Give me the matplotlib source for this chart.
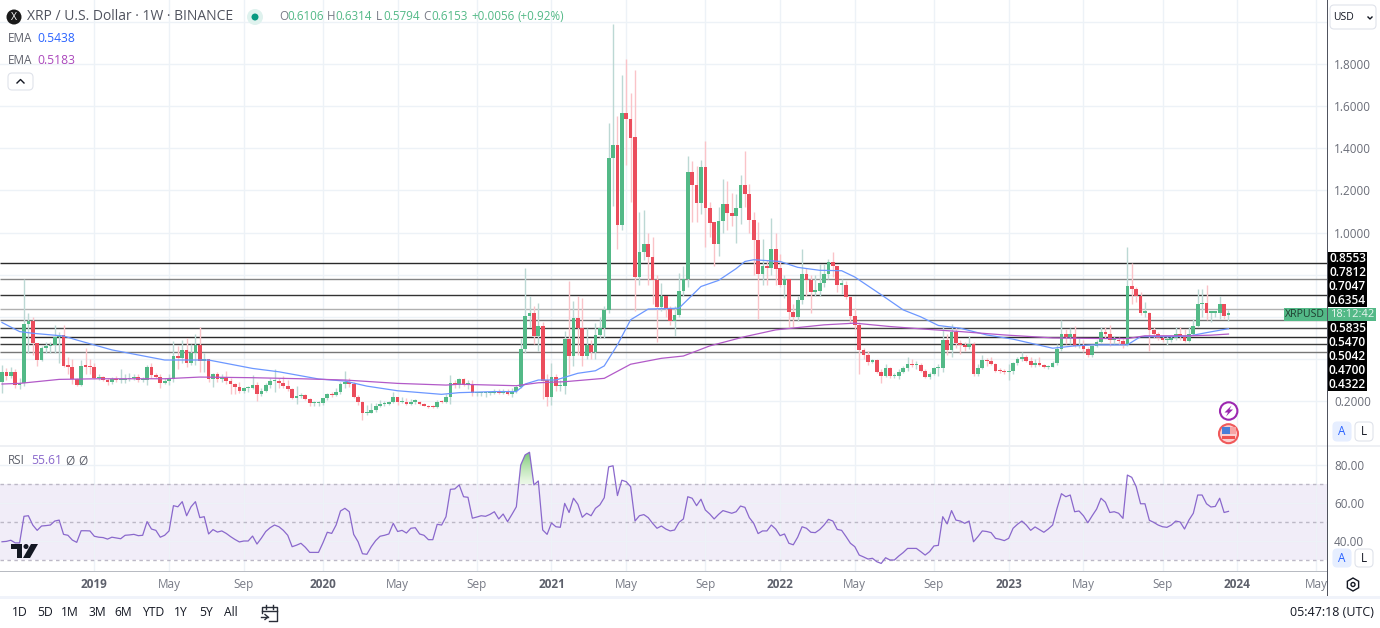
import numpy as np
import pandas as pd
import matplotlib
matplotlib.use('Agg')
import matplotlib.pyplot as plt
import matplotlib.dates as mdates
from matplotlib.patches import Rectangle, Ellipse, Polygon, FancyBboxPatch

W, H = 1380, 628
plt.rcParams['font.family'] = ['Open Sans', 'DejaVu Sans']

first_week = '2018-08-13'

opens = [.292,.339,.319,.339,.274,.285,.566,.578,.474,.395,
         .45,.46,.467,.505,.515,.366,.363,.303,.278,.366,
         .363,.36,.31,.312,.30,.292,.304,.298,.30,.303,
         .31,.313,.30,.30,.36,.323,.315,.285,.295,.305,
         .414,.403,.443,.382,.43,.465,.392,.40,.305,.33,
         .305,.315,.297,.281,.265,.25,.262,.262,.275,.233,
         .25,.275,.293,.297,.285,.27,.258,.215,.225,.228,
         .21,.19,.19,.191,.215,.235,.229,.245,.281,.292,
         .281,.22,.196,.144,.145,.158,.176,.185,.185,.195,
         .218,.196,.197,.185,.197,.197,.185,.178,.171,.17,
         .198,.195,.22,.284,.276,.303,.278,.28,.237,.237,
         .238,.238,.238,.25,.24,.25,.235,.25,.268,.446,
         .605,.62,.51,.557,.30,.22,.313,.27,.27,.495,
         .415,.594,.545,.415,.467,.433,.515,.545,.633,1.352,
         1.414,1.035,1.566,1.538,1.455,.79,.908,.947,.884,.773,
         .646,.697,.641,.582,.608,.724,.78,1.289,1.228,1.141,
         1.313,1.117,1.05,.945,1.055,1.138,1.094,1.08,1.117,1.224,
         1.185,1.058,.966,.805,.84,.83,.92,.83,.753,.78,
         .625,.60,.68,.805,.776,.72,.724,.76,.805,.86,
         .84,.753,.753,.695,.605,.563,.443,.418,.387,.393,
         .34,.32,.355,.32,.32,.34,.357,.375,.37,.37,
         .345,.316,.33,.356,.357,.49,.443,.53,.475,.465,
         .455,.47,.33,.355,.395,.39,.375,.345,.343,.337,
         .345,.38,.40,.41,.39,.37,.38,.37,.362,.362,
         .38,.447,.52,.505,.52,.46,.462,.445,.42,.46,
         .48,.53,.52,.488,.488,.485,.467,.747,.733,.70,
         .62,.62,.537,.52,.50,.49,.49,.50,.52,.51,
         .487,.52,.557,.662,.664,.62,.62,.62,.66,.6106]

closes = [.339,.319,.339,.274,.285,.566,.578,.474,.395,.45,
          .46,.467,.505,.515,.366,.363,.303,.278,.366,.363,
          .36,.31,.312,.30,.292,.304,.298,.30,.303,.31,
          .313,.30,.30,.36,.323,.315,.285,.295,.308,.414,
          .403,.443,.382,.43,.465,.392,.40,.305,.33,.305,
          .315,.297,.281,.265,.25,.262,.265,.275,.233,.25,
          .275,.293,.297,.285,.27,.258,.215,.225,.228,.21,
          .19,.19,.191,.215,.235,.229,.245,.281,.292,.281,
          .22,.196,.144,.145,.158,.176,.185,.185,.195,.218,
          .196,.197,.185,.197,.197,.185,.178,.171,.17,.198,
          .195,.22,.284,.276,.303,.278,.28,.237,.237,.238,
          .238,.238,.25,.24,.25,.235,.25,.268,.446,.605,
          .62,.51,.557,.297,.22,.313,.27,.272,.495,.415,
          .594,.545,.415,.467,.433,.515,.545,.633,1.352,1.414,
          1.035,1.566,1.538,1.449,.79,.908,.947,.884,.773,.646,
          .697,.641,.582,.608,.724,.78,1.289,1.228,1.141,1.313,
          1.117,1.045,.945,1.055,1.138,1.094,1.08,1.117,1.224,1.185,
          1.058,.966,.805,.84,.83,.92,.827,.753,.78,.625,
          .60,.68,.805,.776,.72,.724,.76,.805,.86,.84,
          .753,.753,.695,.605,.563,.443,.418,.387,.393,.34,
          .32,.355,.32,.32,.34,.357,.375,.37,.37,.345,
          .316,.33,.356,.357,.49,.443,.53,.475,.465,.455,
          .47,.33,.355,.395,.39,.375,.345,.343,.337,.345,
          .38,.40,.41,.39,.37,.38,.37,.362,.362,.38,
          .447,.52,.505,.52,.46,.462,.445,.42,.46,.48,
          .53,.52,.488,.488,.485,.467,.747,.733,.70,.62,
          .62,.537,.52,.50,.49,.49,.50,.52,.51,.487,
          .52,.557,.662,.664,.62,.62,.62,.66,.606,.6153]

highs = [.37,.355,.36,.35,.31,.78,.62,.60,.47,.46,
         .48,.48,.56,.53,.56,.41,.40,.31,.395,.45,
         .40,.38,.33,.32,.31,.315,.32,.35,.33,.335,
         .33,.33,.315,.37,.38,.335,.33,.31,.33,.485,
         .46,.49,.50,.47,.52,.55,.43,.40,.335,.34,
         .33,.345,.31,.285,.29,.265,.27,.325,.29,.26,
         .285,.31,.35,.31,.32,.30,.26,.27,.24,.235,
         .215,.20,.20,.215,.24,.245,.26,.29,.345,.31,
         .29,.23,.20,.18,.19,.19,.205,.20,.20,.245,
         .22,.22,.215,.21,.21,.20,.19,.18,.18,.205,
         .205,.235,.326,.30,.31,.31,.30,.30,.245,.245,
         .245,.245,.255,.255,.255,.255,.26,.275,.50,.83,
         .70,.65,.666,.575,.33,.38,.33,.30,.535,.77,
         .675,.70,.69,.545,.49,.57,.60,.65,1.52,1.99,
         1.555,1.75,1.825,1.665,1.77,1.10,1.107,1.00,.98,.80,
         .76,.70,.65,.65,.81,.84,1.365,1.34,1.315,1.345,
         1.436,1.146,1.05,1.12,1.256,1.247,1.19,1.185,1.275,1.387,
         1.233,1.10,1.05,.97,.87,1.07,1.0,.90,.80,.78,
         .66,.70,.92,.83,.80,.80,.85,.85,.875,.91,
         .84,.78,.77,.70,.64,.575,.45,.44,.40,.40,
         .35,.375,.36,.335,.35,.365,.41,.40,.39,.38,
         .35,.34,.36,.375,.555,.52,.565,.55,.49,.48,
         .51,.48,.375,.42,.405,.41,.38,.355,.35,.375,
         .385,.41,.435,.42,.41,.40,.41,.375,.37,.39,
         .47,.585,.54,.545,.555,.50,.49,.455,.465,.49,
         .55,.55,.56,.51,.505,.50,.93,.855,.74,.72,
         .67,.625,.55,.53,.515,.51,.515,.55,.55,.54,
         .55,.59,.73,.73,.75,.63,.63,.70,.66,.6314]

lows = [.24,.30,.31,.26,.255,.27,.43,.42,.365,.39,
        .43,.43,.43,.38,.36,.33,.28,.27,.27,.33,
        .33,.305,.30,.295,.275,.28,.29,.285,.285,.295,
        .30,.29,.29,.276,.31,.31,.262,.28,.275,.29,
        .35,.38,.36,.37,.37,.34,.34,.29,.265,.29,
        .29,.28,.232,.235,.24,.24,.245,.255,.20,.225,
        .245,.26,.245,.26,.26,.25,.21,.185,.215,.205,
        .175,.175,.178,.18,.205,.22,.225,.235,.26,.265,
        .215,.18,.11,.135,.145,.15,.17,.175,.18,.19,
        .18,.19,.18,.18,.185,.18,.175,.165,.165,.165,
        .19,.19,.185,.26,.26,.27,.255,.225,.225,.225,
        .22,.23,.235,.235,.235,.23,.22,.24,.26,.43,
        .55,.47,.44,.21,.175,.18,.25,.25,.235,.33,
        .365,.42,.365,.40,.40,.40,.50,.50,.62,1.125,
        .92,1.01,1.32,1.145,.63,.75,.87,.75,.66,.48,
        .63,.60,.56,.51,.60,.70,.74,1.05,1.05,1.09,
        .93,.98,.84,.89,1.0,1.01,1.033,.95,1.04,1.12,
        1.0,.80,.59,.75,.75,.80,.75,.74,.69,.55,
        .55,.58,.66,.70,.62,.70,.70,.74,.78,.79,
        .72,.71,.685,.57,.54,.33,.40,.37,.38,.335,
        .285,.315,.31,.31,.305,.335,.345,.36,.35,.34,
        .31,.305,.325,.32,.34,.42,.41,.45,.425,.44,
        .445,.32,.32,.35,.365,.37,.34,.335,.33,.30,
        .33,.37,.39,.385,.36,.36,.365,.355,.35,.36,
        .37,.44,.47,.47,.455,.45,.435,.41,.41,.455,
        .475,.50,.46,.47,.465,.45,.46,.66,.67,.61,
        .60,.44,.50,.49,.48,.465,.48,.49,.49,.48,
        .48,.51,.55,.60,.585,.575,.60,.59,.59,.5794]

# EMA lines read at their bends, bar number then value
ema_fast_bars = [0,4,7,14,17,25,37,42,47,57,63,72,78,83,90,100,104,112,117,119,122,126,131,135,137,
                 140,143,147,154,159,163,167,169,171,177,181,186,191,194,200,205,209,213,218,224,
                 230,239,244,248,256,259,266,270,274,279]
ema_fast = [.573,.530,.522,.509,.49,.443,.395,.395,.395,.355,.339,.305,.295,.271,.249,.232,.24,.245,.245,.281,.30,.30,.332,.344,.367,
            .467,.586,.637,.641,.744,.773,.829,.863,.871,.863,.835,.821,.819,.789,.705,.633,.60,.559,.546,.514,
            .494,.451,.462,.467,.467,.506,.506,.509,.525,.5438]
ema_slow_bars = [0,4,13,22,37,45,57,68,78,90,101,104,117,122,128,137,143,150,155,161,169,176,187,194,202,
                 209,218,228,239,250,256,260,270,275,279]
ema_slow = [.281,.284,.303,.306,.306,.314,.311,.306,.30,.284,.276,.28,.273,.287,.292,.308,.375,.403,.414,.462,.506,.538,.562,.57,.554,
            .543,.53,.514,.50,.497,.497,.51,.51,.513,.5183]

rsi = [39.6,39.8,40.4,39,39,53,53.3,48.4,45.6,47.9,48.1,48.4,50.5,51,43.5,43,40.5,39.3,45.4,45.4,
       45.3,42.5,42,41.8,41,42,41.6,41.2,43,43.2,43.5,42.8,43,50.2,46.3,45.6,42,43,45.3,58.6,
       58,60.7,53.3,58,60.7,52.3,52.8,43.7,46,44.7,45.3,44,42.3,40.8,39.5,40,40,42.6,38.4,41.5,
       45,47,48.4,47.5,45.6,43,37,37.8,38.8,36.7,34,34,34,39,44.6,44,48.4,55.8,57.2,55.4,
       43.5,39.6,33.3,33,37,40.2,42.5,43,43.7,49.3,45,45.6,44.2,46.7,47,43.7,43,40.7,40.7,48.8,
       48.4,52.8,67.2,67.4,69.5,63.3,63,52,52.6,53.3,53,54,55.4,51.6,54.2,50.2,54,58,80,85.3,
       86.7,69.5,71.6,45.8,43.5,49.5,47.5,47.2,59.8,55,62.5,59.3,52.5,54.6,53.3,57.2,59,62.8,79,79.6,
       63.9,72,71.2,68.6,50.5,53.3,53.9,52.3,49.3,46.7,47.9,46.3,45.3,45.8,49.8,51.6,63.3,
       62.5,58.6,62,56.3,54.2,51.6,54,56,55.3,54.6,55.4,58.4,57.7,52.3,49.3,43.9,45.3,45.3,48.4,46.3,
       42.8,43.7,38.8,38,42,47.5,46.7,44.6,44.4,46,48.4,51.4,50.5,46.1,45.6,42.3,38.8,37,32.6,31.6,
       30.5,30.9,29.1,28.2,31.2,30,30,32.1,33.9,36.1,36.1,36.1,34.4,32.6,34.4,37.4,37.7,52.8,49,56,
       51,50.5,49.3,50.5,39.6,42.3,45.3,45,44.4,41.4,40.9,40.2,41.4,46.7,48.8,50.5,48.4,45.6,47.4,46,
       44.6,46.3,48.4,57.2,64.9,63.3,64.2,55.4,55.8,53.3,49.6,53.3,56.8,62.5,60.4,55,55.4,54.6,51.9,74.7,
       73.5,68.6,59.6,59.6,50.9,49.8,48.4,47.5,47.2,48.4,50.5,50,46.3,51,54.6,64.2,64.2,59.6,57.9,58.2,
       62.5,55,55.6]

levels = [.8553, .7812, .7047, .6354, .5835, .5470, .5042, .4700, .4322]
level_colors = ['#2a2a2a', '#858585', '#333333', '#b0b0b0', '#707070',
                '#444444', '#2a2a2a', '#3a3a3a', '#777777']
level_labels = ['0.8553', '0.7812', '0.7047', '0.6354', '0.5835', '0.5470', '0.5042', '0.4700', '0.4322']
level_label_y = [258, 272, 286, 300, 328, 342, 356, 370, 384]

price_ticks = [2.0, 1.8, 1.6, 1.4, 1.2, 1.0, .8, .6, .4, .2]
price_tick_labels = ['', '1.8000', '1.6000', '1.4000', '1.2000', '1.0000', '', '', '', '0.2000']
rsi_ticks = [80, 60, 40]
rsi_tick_labels = ['80.00', '60.00', '40.00']

time_ticks = ['2019-01-07', '2019-05-06', '2019-09-02', '2020-01-06', '2020-05-04', '2020-09-07',
              '2021-01-04', '2021-05-03', '2021-09-06', '2022-01-03', '2022-05-02', '2022-09-05',
              '2023-01-02', '2023-05-01', '2023-09-04', '2024-01-01', '2024-05-06']
time_labels = ['2019', 'May', 'Sep', '2020', 'May', 'Sep', '2021', 'May', 'Sep',
               '2022', 'May', 'Sep', '2023', 'May', 'Sep', '2024', 'May']

ranges = ['1D', '5D', '1M', '3M', '6M', 'YTD', '1Y', '5Y', 'All']
range_x = [20, 45, 70, 97, 123, 153, 181, 206, 231]

GREEN = '#53b987'
RED = '#eb4d5c'
TEXT = '#4a4d57'
GRID = '#edf2f7'
PURPLE = '#8a68cc'


def fx(x):
    return x / W


def fy(y):
    return 1 - y / H


def box(fig, x0, y0, x1, y1, **kw):
    fig.add_artist(Rectangle((fx(x0), fy(y1)), (x1 - x0) / W, (y1 - y0) / H,
                             transform=fig.transFigure, **kw))


def dot(fig, x, y, r, **kw):
    fig.add_artist(Ellipse((fx(x), fy(y)), 2 * r / W, 2 * r / H, transform=fig.transFigure, **kw))


def poly(fig, pts, **kw):
    fig.add_artist(Polygon([(fx(x), fy(y)) for x, y in pts], transform=fig.transFigure, **kw))


def stroke(fig, pts, color='#131722', lw=1):
    xs, ys = zip(*pts)
    fig.add_artist(plt.Line2D([fx(x) for x in xs], [fy(y) for y in ys],
                              transform=fig.transFigure, color=color, lw=lw))


def label(fig, x, y, s, size=8.5, color=TEXT, ha='left', **kw):
    fig.text(fx(x), fy(y), s, fontsize=size, color=color, ha=ha, va='center', **kw)


def round_key(fig, x0, y0, x1, y1, s, active):
    fig.add_artist(FancyBboxPatch((fx(x0), fy(y1)), (x1 - x0) / W, (y1 - y0) / H,
                                  boxstyle='round,pad=0,rounding_size=0.003',
                                  transform=fig.transFigure, mutation_aspect=W / H,
                                  fc='#e6eeff' if active else 'white',
                                  ec='#e6eeff' if active else '#e0e3eb', lw=0.8))
    label(fig, (x0 + x1) / 2, (y0 + y1) / 2, s, size=8.5,
          color='#2962ff' if active else '#131722', ha='center')


def main():
    assert len(opens) == len(closes) == len(highs) == len(lows) == len(rsi) == 280, \
        (len(opens), len(closes), len(highs), len(lows), len(rsi))

    o, c, h, l = map(np.array, (opens, closes, highs, lows))
    dates = mdates.date2num(pd.date_range(first_week, periods=len(o), freq='7D'))
    px_day = 4.396 / 7
    x_left = dates[0] - 2 / px_day
    x_right = x_left + 1327 / px_day

    fig = plt.figure(figsize=(W / 100, H / 100), dpi=100, facecolor='white')
    ax = fig.add_axes([0, fy(445), 1327 / W, 445 / H])
    ax2 = fig.add_axes([0, fy(571), 1327 / W, 125 / H])

    up = c >= o
    ax.vlines(dates[up], l[up], h[up], color='#bcd8d4', lw=1, zorder=2)
    ax.vlines(dates[~up], l[~up], h[~up], color='#fac3c8', lw=1, zorder=2)
    body = np.maximum(np.abs(c - o), .006)
    colors = np.where(up, GREEN, RED)
    ax.bar(dates, body, bottom=np.minimum(o, c), width=5.9, color=colors, lw=0, zorder=3)

    ax.hlines(levels, x_left, x_right, colors=level_colors, lw=1, zorder=1.5)
    ax.plot(dates[ema_fast_bars], ema_fast, color='#6c97ff', lw=.9, zorder=4)
    ax.plot(dates[ema_slow_bars], ema_slow, color='#b25ac8', lw=.9, zorder=4)

    ax.set_ylim(2 - 423 / 210.6, 2 + 22 / 210.6)
    ax.set_yticks(price_ticks, price_tick_labels)

    # RSI pane
    r = np.array(rsi)
    ax2.axhspan(30, 70, color='#7e57c2', alpha=.1, lw=0, zorder=0)
    for v in (70, 50, 30):
        ax2.axhline(v, color='#bcb8c6', lw=1, dashes=(2.5, 2.5), zorder=1.5)
    over = ax2.fill_between(dates, 70, r, where=r > 70, interpolate=True, color='none', lw=0)
    grad = np.linspace(1, 0, 64).reshape(-1, 1)
    im = ax2.imshow(grad, extent=(x_left, x_right, 70, 87), aspect='auto', cmap='Greens',
                    vmin=-.2, vmax=2.2, zorder=1.6)
    im.set_clip_path(over.get_paths()[0], transform=ax2.transData)
    ax2.plot(dates, r, color=PURPLE, lw=.9, zorder=3)
    ax2.set_ylim(80 - 106 / 1.9, 80 + 19 / 1.9)
    ax2.set_yticks(rsi_ticks, rsi_tick_labels)

    ticks = mdates.date2num(pd.to_datetime(time_ticks))
    for a in (ax, ax2):
        a.set_xlim(x_left, x_right)
        a.set_xticks(ticks)
        a.grid(True, color=GRID, lw=1, zorder=0)
        a.set_axisbelow(True)
        a.yaxis.tick_right()
        a.tick_params(axis='y', length=0, pad=5, labelsize=8.5, labelcolor='#6a6d78')
        for s in a.spines.values():
            s.set_visible(False)
    ax.tick_params(axis='x', length=0, labelbottom=False)
    ax2.set_xticklabels(time_labels)
    ax2.tick_params(axis='x', length=0, pad=5, labelsize=8.5, labelcolor='#787b86')
    for t, s in zip(ax2.get_xticklabels(), time_labels):
        if s[0] == '2':
            t.set_fontweight('bold')
            t.set_color('#5d606b')

    # frame lines
    box(fig, 0, 445, 1380, 446.5, fc='#eef0f4', lw=0)
    box(fig, 0, 570.5, 1327, 572, fc='#b8bbc2', lw=0)
    box(fig, 0, 596, 1380, 599, fc='#f0f3fa', lw=0)
    box(fig, 1326.5, 0, 1327.7, 596, fc='#50535e', lw=0)

    # header
    dot(fig, 14, 17, 7.5, fc='#1a1a1a', lw=0)
    label(fig, 14, 17, 'X', size=7.5, color='white', ha='center')
    label(fig, 27, 17, 'XRP / U.S. Dollar · 1W · BINANCE', size=10, color='#50535e')
    dot(fig, 255, 17, 8, fc='#dff2ee', lw=0)
    dot(fig, 255, 17, 3.5, fc='#089981', lw=0)
    ohlc_keys = ['O', 'H', 'L', 'C']
    ohlc_vals = ['0.6106', '0.6314', '0.5794', '0.6153']
    for s, x in zip(ohlc_keys, [279, 327, 376, 423]):
        label(fig, x, 17, s, size=8.4, color='#787b86')
    for s, x in zip(ohlc_vals, [287, 335.5, 383, 431]):
        label(fig, x, 17, s, size=8.4, color=GREEN)
    label(fig, 471.5, 17, '+0.0056', size=8.4, color=GREEN)
    label(fig, 517, 17, '(+0.92%)', size=8.4, color=GREEN)
    label(fig, 8, 39, 'EMA', size=8.5, color='#5d606b')
    label(fig, 37, 39, '0.5438', size=8.7, color='#2962ff')
    label(fig, 8, 61, 'EMA', size=8.5, color='#5d606b')
    label(fig, 37, 61, '0.5183', size=8.7, color='#ab47bc')
    round_key(fig, 8, 73, 33, 90, '', False)
    stroke(fig, [(17, 83), (20.5, 79.5), (24, 83)])
    label(fig, 8, 461, 'RSI', size=8.5, color='#5d606b')
    label(fig, 31, 461, '55.61', size=8.7, color=PURPLE)
    label(fig, 65, 461, 'Ø', size=8.5, color='#5d606b')
    label(fig, 78, 461, 'Ø', size=8.5, color='#5d606b')

    # price scale tags
    box(fig, 1327.7, 252, 1367, 307, fc='black', lw=0)
    box(fig, 1327.7, 321, 1367, 391, fc='black', lw=0)
    for s, y in zip(level_labels, level_label_y):
        label(fig, 1347.5, y, s, size=8.6, color='white', ha='center', fontweight='semibold')
    box(fig, 1284, 307.7, 1326.5, 321, fc=GREEN, lw=0)
    box(fig, 1327.7, 307.7, 1376, 321, fc=GREEN, lw=0)
    label(fig, 1305, 314.5, 'XRPUSD', size=7.6, color='#1f3d30', ha='center')
    label(fig, 1352, 314.5, '18:12:42', size=8, color='#e8f5ef', ha='center')

    # USD box, auto / log keys
    round_key(fig, 1330, 5, 1376, 29, '', False)
    label(fig, 1333, 17, 'USD', size=7.5, color='#131722')
    stroke(fig, [(1368, 17), (1370, 19), (1372, 17)])
    round_key(fig, 1333, 422, 1351, 441, 'A', True)
    round_key(fig, 1355, 422, 1373, 441, 'L', False)
    round_key(fig, 1333, 549, 1351, 567, 'A', True)
    round_key(fig, 1355, 549, 1373, 567, 'L', False)

    # gear icon
    poly(fig, [(1353 + 6.5 * np.cos(a), 584.5 + 6.5 * np.sin(a))
               for a in np.pi / 6 + np.arange(6) * np.pi / 3], fc='white', ec='#131722', lw=1)
    dot(fig, 1353, 584.5, 2, fc='white', ec='#131722', lw=1)

    # event icons
    dot(fig, 1228.7, 411, 8.7, fc='white', ec='#9c27b0', lw=1.5)
    poly(fig, [(1231.5, 405.5), (1224.5, 412.5), (1228, 412.5), (1226, 416.5),
               (1233, 409.5), (1229.5, 409.5)], fc='#9c27b0', lw=0)
    dot(fig, 1228.5, 433.7, 9.5, fc='#fbd0d0', ec='#f0595a', lw=1.5)
    box(fig, 1222, 427, 1236, 434, fc='#f6a5a5', lw=0)
    box(fig, 1222, 427, 1230, 434, fc='#4a7fd8', lw=0)
    box(fig, 1222, 436, 1235, 438.5, fc='#ef5350', lw=0)

    # TradingView mark
    for pts in ([(11, 544), (22, 544), (22, 558), (17, 558), (17, 549), (11, 549)],
                [(31, 544), (38, 544), (30, 558), (23, 558)]):
        poly(fig, pts, fc='#131722', lw=0)
    dot(fig, 26, 546.5, 2.5, fc='#131722', lw=0)

    # bottom bar
    for s, x in zip(ranges, range_x):
        label(fig, x, 613, s, size=8.7, color='#131722', ha='center')
    box(fig, 248.5, 603, 249.5, 622, fc='#e0e3eb', lw=0)
    stroke(fig, [(262, 613), (262, 607), (277, 607), (277, 621), (269, 621)], color='#2a2e39')
    stroke(fig, [(262, 611), (277, 611)], color='#2a2e39')
    stroke(fig, [(266, 605), (266, 609)], color='#2a2e39')
    stroke(fig, [(273, 605), (273, 609)], color='#2a2e39')
    stroke(fig, [(261, 617), (268, 617)], color='#2a2e39')
    stroke(fig, [(265, 614.5), (268, 617), (265, 619.5)], color='#2a2e39')
    label(fig, 1374, 613, '05:47:18 (UTC)', size=9, color='#131722', ha='right')

    fig.savefig('out.png', dpi=100)


if __name__ == '__main__':
    main()
